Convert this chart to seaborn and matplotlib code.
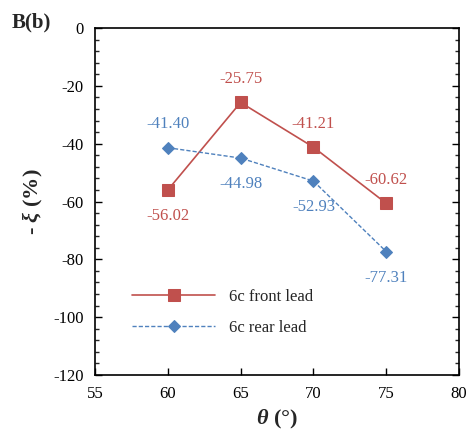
import matplotlib
matplotlib.use("Agg")
import matplotlib.pyplot as plt
import seaborn as sns
import pandas as pd
from matplotlib.ticker import MultipleLocator

sns.set_theme(style="white")
plt.rcParams['font.family'] = ['Liberation Serif', 'DejaVu Serif']
plt.rcParams['axes.unicode_minus'] = False
plt.rcParams['mathtext.fontset'] = 'custom'
plt.rcParams['mathtext.it'] = 'Liberation Serif:italic:bold'
plt.rcParams['mathtext.rm'] = 'Liberation Serif:bold'

theta = [60, 65, 70, 75]
front = [-56.02, -25.75, -41.21, -60.62]
rear = [-41.40, -44.98, -52.93, -77.31]
series_names = ["6c front lead", "6c rear lead"]
front_label_pos = ["below", "above", "above", "above"]
rear_label_pos = ["above", "below", "below", "below"]

df = pd.DataFrame({
    "theta": theta * 2,
    "xi": front + rear,
    "series": [series_names[0]] * 4 + [series_names[1]] * 4,
})

red = "#C0504D"
blue = "#4F81BD"

fig = plt.figure(figsize=(4.70, 4.34), dpi=100)
ax = fig.add_axes([95/470, 1 - 375/434, (459-95)/470, (375-28)/434])

sns.lineplot(data=df[df.series == series_names[0]], x="theta", y="xi", ax=ax,
             color=red, marker="s", markersize=9, markeredgecolor=red,
             linewidth=1.2, label=series_names[0])
sns.lineplot(data=df[df.series == series_names[1]], x="theta", y="xi", ax=ax,
             color=blue, marker="D", markersize=6.5, markeredgecolor=blue,
             linewidth=1.0, linestyle=(0, (3, 1.5)), label=series_names[1])

for vals, pos, col in ((front, front_label_pos, red), (rear, rear_label_pos, blue)):
    for x, y, p in zip(theta, vals, pos):
        off = 17 if p == "above" else -19
        ax.annotate(f"{y:.2f}", (x, y), xytext=(0, off), textcoords="offset points",
                    ha="center", va="center", color=col, fontsize=12)

ax.set_xlim(55, 80)
ax.set_ylim(-120, 0)
ax.xaxis.set_major_locator(MultipleLocator(5))
ax.yaxis.set_major_locator(MultipleLocator(20))
ax.yaxis.set_minor_locator(MultipleLocator(4))
ax.tick_params(axis="both", which="major", direction="in", length=5, width=1,
               labelsize=12, colors="black", pad=8)
ax.tick_params(axis="y", which="both", right=True, left=True, direction="in")
ax.tick_params(axis="y", which="minor", length=3, width=1)
ax.tick_params(axis="x", which="both", bottom=True, top=False)
for s in ax.spines.values():
    s.set_color("black")
    s.set_linewidth(1.2)

ax.set_xlabel(r"$\theta$ (°)", fontsize=16, fontweight="bold", labelpad=4)
ax.set_ylabel(r"- $\xi$ (%)", fontsize=16, fontweight="bold", labelpad=6)

leg = ax.legend(loc="lower left", bbox_to_anchor=(0.06, 0.07), frameon=False,
                fontsize=12, handlelength=5, labelspacing=0.9)

fig.text(12/470, 1 - 22/434, "B(b)", fontsize=15, fontweight="bold", va="center")

fig.savefig("out.png", dpi=100)
